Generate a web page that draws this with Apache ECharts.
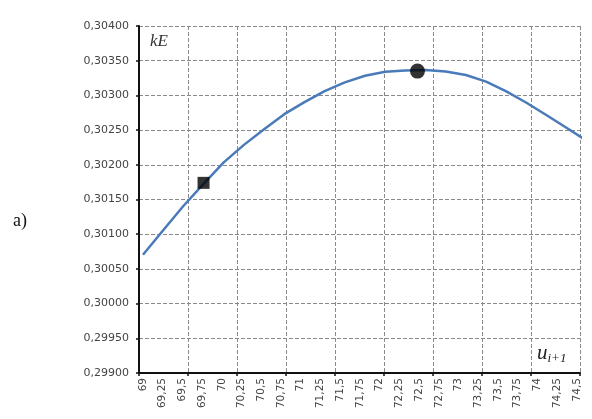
<!DOCTYPE html>
<html><head><meta charset="utf-8">
<script src="https://cdn.jsdelivr.net/npm/echarts@6/dist/echarts.min.js"></script>
<style>html,body{margin:0;padding:0;background:#fff}#c{width:592px;height:419px}</style>
</head><body><div id="c"></div>
<script>
const uValues = [69,69.25,69.5,69.75,70,70.25,70.5,70.75,71,71.25,71.5,71.75,72,72.25,72.5,72.75,73,73.25,73.5,73.75,74,74.25,74.5];
const kEValues = [0.300703,0.301056,0.301406,0.301725,0.302035,0.302287,0.302512,0.302730,0.302903,0.303062,0.303188,0.303284,0.303340,0.303359,0.303366,0.303345,0.303294,0.303198,0.303057,0.302894,0.302714,0.302531,0.302344];
const squarePoint = [69.75, 0.30174];
const circlePoint = [72.4, 0.30335];
const yMin = 0.299, yMax = 0.304, yStep = 0.0005;
const xLabelValues = uValues.slice();

const chart = echarts.init(document.getElementById('c'));
const fmtComma = v => String(v).replace('.', ',');
chart.setOption({
  animation: false,
  backgroundColor: '#fff',
  grid: {left: 139, right: 12, top: 26, bottom: 46},
  xAxis: [
    {
      type: 'value', min: 68.95, max: 74.54,
      axisLine: {show: true, onZero: false, lineStyle: {color: '#111', width: 2}},
      axisTick: {show: false},
      splitLine: {show: false},
      axisLabel: {
        customValues: xLabelValues, rotate: 90, margin: 5,
        fontFamily: 'DejaVu Sans', fontSize: 10.5, color: '#444',
        formatter: v => fmtComma(v)
      }
    },
    {
      type: 'value', min: 0, max: 9, interval: 1, position: 'bottom',
      axisLine: {show: false},
      axisTick: {show: true, inside: false, length: 3, lineStyle: {color: '#111', width: 1.5}},
      axisLabel: {show: false},
      splitLine: {show: true, lineStyle: {color: '#8a8a8a', width: 1, type: [4, 2]}}
    },
    {
      type: 'value', min: 68.9505, max: 74.413, show: false,
      splitLine: {show: false}
    }
  ],
  yAxis: {
    type: 'value', min: yMin, max: yMax, interval: yStep,
    axisLine: {show: true, onZero: false, lineStyle: {color: '#111', width: 2}},
    axisTick: {show: true, length: 3, lineStyle: {color: '#111', width: 1.5}},
    axisLabel: {
      margin: 10, fontFamily: 'DejaVu Sans', fontSize: 11, color: '#444',
      formatter: v => v.toFixed(5).replace('.', ',')
    },
    splitLine: {show: true, lineStyle: {color: '#8a8a8a', width: 1, type: [4, 2]}}
  },
  series: [
    {
      type: 'line', xAxisIndex: 2, clip: false,
      data: uValues.map((u, i) => [u, kEValues[i]]),
      symbol: 'none', smooth: false,
      lineStyle: {color: '#4a7ab8', width: 2.5},
      z: 3
    },
    {
      type: 'scatter', xAxisIndex: 2, data: [squarePoint],
      symbol: 'rect', symbolSize: 12, itemStyle: {color: '#000'}, z: 4
    },
    {
      type: 'scatter', xAxisIndex: 2, data: [circlePoint],
      symbol: 'circle', symbolSize: 15, itemStyle: {color: '#000'}, z: 4
    }
  ],
  graphic: [
    {type: 'text', left: 150, top: 33, style: {text: 'kE', font: 'italic 17px "Liberation Serif"', fill: '#333'}},
    {type: 'text', left: 537, top: 343, style: {
      text: '{u|u}{s|i+1}',
      rich: {
        u: {font: 'italic 21px "Liberation Serif"', fill: '#222'},
        s: {font: 'italic 13px "Liberation Serif"', fill: '#222', padding: [10, 0, 0, 0]}
      }
    }},
    {type: 'text', left: 13, top: 212, style: {text: 'a)', font: '18px "Liberation Serif"', fill: '#111'}}
  ]
});
</script></body></html>
